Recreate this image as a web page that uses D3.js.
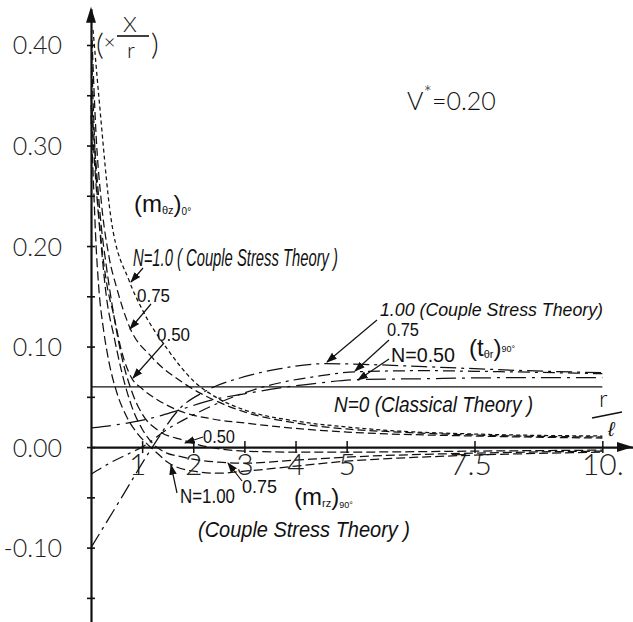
<!DOCTYPE html>
<html><head><meta charset="utf-8">
<script src="https://cdn.jsdelivr.net/npm/d3@7"></script>
<style>
body{margin:0;background:#fff}
svg{display:block}
</style></head><body>
<svg id="c" width="633" height="622"></svg>
<script>
// ---------- data ----------
const yMajorTicks = [-0.10, 0.00, 0.10, 0.20, 0.30, 0.40];
const yMajorLabels = ["-0.10", "0.00", "0.10", "0.20", "0.30", "0.40"];
const yMinorTicks = [-0.15, -0.05, 0.05, 0.15, 0.25, 0.35];
const xTicks = [1, 2, 3, 4, 5, 7.5, 10];
const xTickLabels = ["1", "2", "3", "4", "5", "7.5", "10."];

// (m_θz)0°  couple stress
const mThetaZ_N100 = [[0.04,0.415],[0.16,0.345],[0.39,0.228],[0.75,0.165],[1.0,0.137],[1.5,0.097],[2.0,0.066],[2.5,0.048],[3,0.037],[4,0.026],[5,0.02],[6,0.016],[7.5,0.013],[10,0.011]];
const mThetaZ_N075 = [[0.02,0.405],[0.1,0.31],[0.2,0.245],[0.35,0.19],[0.51,0.157],[0.75,0.12],[1.18,0.09],[1.8,0.064],[2.4,0.047],[3,0.035],[4,0.024],[5,0.018],[6,0.015],[7.5,0.012],[10,0.01]];
const mThetaZ_N050 = [[0.01,0.39],[0.1,0.27],[0.2,0.205],[0.3,0.165],[0.45,0.13],[0.6,0.095],[0.78,0.07],[1.0,0.058],[1.27,0.048],[1.73,0.036],[2.37,0.028],[3,0.024],[3.7,0.02],[5,0.015],[7.5,0.011],[10,0.009]];
// (m_rz)90°  couple stress
const mRZ_N100 = [[0.0,0.33],[0.05,0.26],[0.1,0.2],[0.15,0.16],[0.25,0.115],[0.35,0.085],[0.5,0.055],[0.7,0.03],[0.9,0.014],[1.1,0.003],[1.25,-0.004],[1.5,-0.015],[2,-0.024],[2.5,-0.026],[3,-0.024],[4,-0.019],[5,-0.014],[6,-0.011],[7.5,-0.008],[10,-0.005]];
const mRZ_N075 = [[0.0,0.34],[0.1,0.26],[0.2,0.2],[0.3,0.15],[0.45,0.11],[0.6,0.075],[0.8,0.04],[1.0,0.018],[1.2,0.004],[1.4,-0.004],[1.8,-0.01],[2.5,-0.015],[3,-0.016],[4,-0.013],[5,-0.01],[7.5,-0.006],[10,-0.004]];
const mRZ_N050 = [[0.0,0.35],[0.1,0.28],[0.2,0.22],[0.3,0.18],[0.45,0.13],[0.6,0.09],[0.8,0.055],[1.0,0.033],[1.3,0.017],[1.8,0.007],[2.3,0.0],[3,-0.004],[4,-0.005],[5,-0.005],[7.5,-0.004],[10,-0.003]];
// (t_θr)90°
const tThetaR_N100 = [[0,-0.1],[0.6,-0.05],[1.2,0.0],[1.73,0.038],[2.25,0.056],[3,0.07],[3.7,0.078],[4.6,0.083],[5.5,0.082],[7,0.079],[8.5,0.076],[10,0.074]];
const tThetaR_N075 = [[0,-0.027],[0.4,-0.015],[0.8,-0.005],[1.0,0.0],[1.5,0.018],[2,0.032],[2.5,0.044],[3,0.054],[3.7,0.064],[4.5,0.071],[5.2,0.075],[6.5,0.076],[8,0.075],[10,0.073]];
const tThetaR_N050 = [[0,0.019],[0.6,0.023],[1.2,0.029],[1.73,0.037],[2.37,0.047],[3,0.053],[3.7,0.059],[4.5,0.064],[5.2,0.067],[6.5,0.068],[8,0.069],[10,0.069]];
const tThetaR_N0 = [[0,0.06],[10,0.06]];

// ---------- drawing ----------
const svg = d3.select("#c");
const x = d3.scaleLinear().domain([0, 10.6]).range([91, 633]);
const y = d3.scaleLinear().domain([-0.174, 0.436]).range([622, 8.8]);

const defs = svg.append("defs");
defs.append("marker").attr("id","ah").attr("viewBox","0 0 10 10").attr("refX",9).attr("refY",5)
  .attr("markerWidth",9).attr("markerHeight",9).attr("orient","auto")
  .append("path").attr("d","M0,1.5 L10,5 L0,8.5 Z").attr("fill","#111");

const numFont = 'Lato,"Liberation Sans",Arial,sans-serif';
const handFont = '"Liberation Sans",sans-serif';

// y axis
const yAxis = d3.axisLeft(y)
  .tickValues(yMajorTicks.concat(yMinorTicks))
  .tickSizeOuter(0).tickSizeInner(4)
  .tickFormat(d => { const i = yMajorTicks.findIndex(v => Math.abs(v - d) < 1e-9); return i >= 0 ? yMajorLabels[i] : ""; });
const gy = svg.append("g").attr("transform", `translate(${x(0)},0)`).call(yAxis);
gy.select(".domain").attr("stroke","#111").attr("stroke-width",2.2);
gy.selectAll(".tick line").attr("x1",-4).attr("x2",4).attr("stroke","#111").attr("stroke-width",1.6);
gy.selectAll(".tick text").attr("x",-29).attr("font-family",numFont).attr("font-weight",300)
  .attr("font-size",25).attr("fill","#222").attr("dy","0.36em");

// x axis
const xAxis = d3.axisBottom(x)
  .tickValues(xTicks).tickSizeOuter(0).tickSizeInner(6)
  .tickFormat((d,i) => xTickLabels[i]);
const gx = svg.append("g").attr("transform", `translate(0,${y(0)})`).call(xAxis);
gx.select(".domain").attr("stroke","#111").attr("stroke-width",2.2);
gx.selectAll(".tick line").attr("y1",-6).attr("y2",6).attr("stroke","#111").attr("stroke-width",1.5);
gx.selectAll(".tick text").attr("y",7).attr("dy","0.71em").attr("font-family",numFont).attr("font-weight",300)
  .attr("font-size",30).attr("fill","#222")
  .attr("dx",(d)=> d===1 ? -5 : (d===7.5 ? -4 : 0));

// axis arrowheads
svg.append("path").attr("d",`M${x(0)-5},${y(0.436)+14} L${x(0)},${y(0.436)-2} L${x(0)+5},${y(0.436)+14} Z`).attr("fill","#111");
svg.append("path").attr("d",`M${x(10.6)-16},${y(0)-5} L${x(10.6)},${y(0)} L${x(10.6)-16},${y(0)+5} Z`).attr("fill","#111");

// curves
const line = d3.line().x(d => x(d[0])).y(d => y(d[1])).curve(d3.curveMonotoneX);
const series = [
  {data: mThetaZ_N100, dash: "4,3"},
  {data: mThetaZ_N075, dash: "8,4"},
  {data: mThetaZ_N050, dash: "8,4"},
  {data: mRZ_N100, dash: "9,4"},
  {data: mRZ_N075, dash: "9,4"},
  {data: mRZ_N050, dash: "9,4"},
  {data: tThetaR_N100, dash: "16,5,3,5"},
  {data: tThetaR_N075, dash: "12,5,3,5"},
  {data: tThetaR_N050, dash: "20,6,3,6"},
  {data: tThetaR_N0, dash: null}
];
svg.append("g").selectAll("path").data(series).join("path")
  .attr("d", d => line(d.data))
  .attr("fill","none").attr("stroke","#111").attr("stroke-width",1.25)
  .attr("stroke-dasharray", d => d.dash);

// ---------- annotations ----------
function txt(s, px, py, size, opts = {}) {
  const t = svg.append("text").attr("x",px).attr("y",py).attr("font-size",size)
    .attr("font-family", opts.font || handFont).attr("fill","#111").text(s);
  if (opts.italic) t.attr("font-style","italic");
  if (opts.weight) t.attr("font-weight",opts.weight);
  if (opts.len) t.attr("textLength",opts.len).attr("lengthAdjust","spacingAndGlyphs");
  return t;
}
// text with sub/superscript parts: parts = [[string, size, dy], ...]
function rich(px, py, parts, opts = {}) {
  const t = svg.append("text").attr("x",px).attr("y",py)
    .attr("font-family", opts.font || handFont).attr("fill","#111");
  if (opts.weight) t.attr("font-weight",opts.weight);
  parts.forEach(p => t.append("tspan").attr("font-size",p[1]).attr("dy",p[2]).text(p[0]));
  return t;
}
function arrow(x1,y1,x2,y2){
  svg.append("line").attr("x1",x1).attr("y1",y1).attr("x2",x2).attr("y2",y2)
    .attr("stroke","#111").attr("stroke-width",1.2).attr("marker-end","url(#ah)");
}

// (× X / r)
rich(96, 55, [["(",30,0],["×",20,-6]], {font:numFont, weight:300});
txt("X", 123, 32, 22, {font:numFont, weight:300});
svg.append("line").attr("x1",117).attr("x2",149).attr("y1",36).attr("y2",36).attr("stroke","#111").attr("stroke-width",1.6);
txt("r", 127, 58, 22, {font:numFont, weight:300});
txt(")", 151, 55, 30, {font:numFont, weight:300});

// V* = 0.20
rich(407, 110, [["V",25,0],["*",20,-10],["=0.20",25,10]], {font:numFont, weight:300});

// (m_θz)0°
rich(134, 212, [["(m",24,0],["θz",11,2],[")",24,-2],["0°",10,3]]);

txt("N=1.0 ( Couple Stress Theory )", 133, 266, 23, {italic:true, len:205});
arrow(143,268,131,282);
txt("0.75", 137, 302, 18, {len:33});
arrow(151,304,130,329);
txt("0.50", 157, 341, 18, {len:33});
arrow(164,343,133,378);

txt("1.00  (Couple Stress Theory)", 380, 316, 19, {italic:true, len:223});
arrow(377,320,327,362);
txt("0.75", 387, 336, 18, {len:32});
arrow(389,340,355,371);
txt("N=0.50", 391, 362, 20, {len:64});
arrow(389,359,358,380);
rich(469, 356, [["(t",24,0],["θr",11,2],[")",24,-2],["90°",9,-4]]);

txt("N=0 (Classical Theory )", 334, 412, 22, {italic:true, len:199});

// r / ℓ
txt("r", 599, 407, 24, {font:numFont, weight:300});
svg.append("line").attr("x1",592).attr("y1",418).attr("x2",622).attr("y2",412).attr("stroke","#111").attr("stroke-width",1.6);
txt("ℓ", 608, 436, 20, {italic:true});

txt("0.50", 203, 443, 18, {len:32});
arrow(203,437,185,443);
txt("N=1.00", 180, 503, 20, {len:55});
arrow(177,493,171,465);
txt("0.75", 242, 493, 18, {len:35});
arrow(242,481,228,463);
rich(294, 505, [["(m",24,0],["rz",11,2],[")",24,-2],["90°",9,3]]);
txt("(Couple Stress Theory )", 198, 537, 22, {italic:true, len:212});
</script>
</body></html>
